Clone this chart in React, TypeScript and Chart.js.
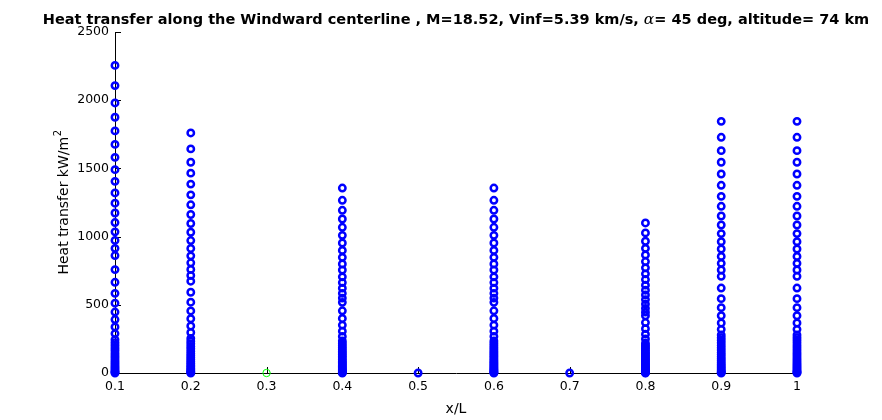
import { useEffect, useRef } from "react";
import { Chart, registerables } from "chart.js";

Chart.register(...registerables);

// ---- data ----
const xTicks = [0.1, 0.2, 0.3, 0.4, 0.5, 0.6, 0.7, 0.8, 0.9, 1];
const yTicks = [0, 500, 1000, 1500, 2000, 2500];

const col01 = [2255, 2107, 1980, 1875, 1775, 1676, 1581, 1491, 1405, 1320, 1245, 1173, 1103, 1035, 972, 914, 861, 758, 665, 584, 512, 447, 392, 338, 289, 244, 222, 203, 184, 165, 145, 127, 110, 93, 78, 64, 50, 37, 24, 12, 6, 0];
const col02 = [1760, 1643, 1545, 1465, 1385, 1306, 1233, 1162, 1096, 1032, 971, 913, 859, 808, 759, 715, 673, 592, 519, 455, 398, 345, 297, 254, 233, 214, 195, 177, 159, 142, 126, 111, 97, 83, 70, 57, 45, 35, 25, 16, 9, 5, 0];
const col04 = [1356, 1266, 1193, 1129, 1068, 1009, 953, 899, 848, 799, 755, 705, 663, 622, 584, 549, 518, 456, 400, 351, 307, 268, 235, 218, 203, 188, 174, 160, 147, 134, 122, 110, 98, 87, 76, 66, 56, 47, 38, 30, 22, 15, 8, 3, 0];
const col06 = [1356, 1266, 1193, 1129, 1068, 1009, 953, 899, 848, 799, 755, 705, 663, 622, 584, 549, 518, 456, 400, 351, 307, 268, 235, 218, 203, 188, 174, 160, 147, 134, 122, 110, 98, 87, 76, 66, 56, 47, 38, 30, 22, 15, 8, 3, 0];
const col08 = [1100, 1027, 966, 914, 866, 817, 771, 727, 685, 644, 607, 572, 538, 505, 474, 446, 420, 370, 325, 285, 250, 218, 204, 191, 178, 165, 153, 141, 130, 119, 109, 99, 89, 80, 71, 62, 53, 45, 38, 31, 24, 18, 12, 6, 2, 0];
const col09 = [1845, 1728, 1630, 1545, 1459, 1376, 1295, 1222, 1151, 1085, 1022, 963, 909, 855, 804, 755, 709, 623, 545, 479, 420, 367, 320, 279, 259, 240, 221, 203, 185, 168, 151, 135, 119, 104, 90, 76, 63, 51, 40, 29, 19, 10, 4, 0];
const col10 = [1845, 1728, 1630, 1545, 1459, 1376, 1295, 1222, 1151, 1085, 1022, 963, 909, 855, 804, 755, 709, 623, 545, 479, 420, 367, 320, 279, 259, 240, 221, 203, 185, 168, 151, 135, 119, 104, 90, 76, 63, 51, 40, 29, 19, 10, 4, 0];

const columnX = [0.1, 0.2, 0.4, 0.6, 0.8, 0.9, 1.0];
const columnY = [col01, col02, col04, col06, col08, col09, col10];

const singleBlueX = [0.5, 0.7];
const singleBlueY = [0, 0];
const greenX = [0.3];
const greenY = [0];

const titleA = "Heat transfer along the Windward centerline , M=18.52, Vinf=5.39 km/s, ";
const titleAlpha = "\u03B1";
const titleB = "= 45 deg, altitude= 74 km";
const xLabel = "x/L";
const yLabel = "Heat transfer kW/m";
const yLabelSup = "2";

const FONT = "'DejaVu Sans', sans-serif";

const decorPlugin = {
  id: "decor",
  beforeDatasetsDraw(chart: any) {
    const { ctx, chartArea, scales } = chart;
    ctx.save();
    ctx.strokeStyle = "#000";
    ctx.lineWidth = 1;
    for (const v of xTicks) {
      const px = Math.round(scales.x.getPixelForValue(v)) + 0.5;
      ctx.beginPath();
      ctx.moveTo(px, chartArea.bottom);
      ctx.lineTo(px, chartArea.bottom - 6);
      ctx.stroke();
    }
    for (const v of yTicks) {
      const py = Math.round(scales.y.getPixelForValue(v)) + 0.5;
      ctx.beginPath();
      ctx.moveTo(chartArea.left, py);
      ctx.lineTo(chartArea.left + 6, py);
      ctx.stroke();
    }
    ctx.restore();
  },
  afterDraw(chart: any) {
    const { ctx, chartArea } = chart;
    const cx = (chartArea.left + chartArea.right) / 2;
    const cy = (chartArea.top + chartArea.bottom) / 2;
    ctx.save();
    ctx.fillStyle = "#000";
    ctx.textBaseline = "alphabetic";
    // title
    const boldFont = `bold 14.5px ${FONT}`;
    const alphaFont = `italic 15.5px 'DejaVu Serif', serif`;
    ctx.font = boldFont;
    const wA = ctx.measureText(titleA).width;
    const wB = ctx.measureText(titleB).width;
    ctx.font = alphaFont;
    const wAl = ctx.measureText(titleAlpha).width;
    const total = wA + wAl + wB;
    let tx = cx - total / 2;
    const ty = 24;
    ctx.textAlign = "left";
    ctx.font = boldFont;
    ctx.fillText(titleA, tx, ty);
    tx += wA;
    ctx.font = alphaFont;
    ctx.fillText(titleAlpha, tx, ty);
    tx += wAl;
    ctx.font = boldFont;
    ctx.fillText(titleB, tx, ty);
    // x label
    ctx.font = `14px ${FONT}`;
    ctx.textAlign = "center";
    ctx.fillText(xLabel, cx, 413);
    // y label
    ctx.translate(68, cy);
    ctx.rotate(-Math.PI / 2);
    const mainFont = `14px ${FONT}`;
    const supFont = `10px ${FONT}`;
    ctx.font = mainFont;
    const wm = ctx.measureText(yLabel).width;
    ctx.font = supFont;
    const ws = ctx.measureText(yLabelSup).width;
    const start = -(wm + ws) / 2;
    ctx.textAlign = "left";
    ctx.font = mainFont;
    ctx.fillText(yLabel, start, 0);
    ctx.font = supFont;
    ctx.fillText(yLabelSup, start + wm + 0.5, -7);
    ctx.restore();
  },
};

export default function App() {
  const ref = useRef<HTMLCanvasElement | null>(null);

  useEffect(() => {
    if (!ref.current) return;
    const bluePts: { x: number; y: number }[] = [];
    columnX.forEach((x, i) => {
      columnY[i].forEach((y) => bluePts.push({ x, y }));
    });
    singleBlueX.forEach((x, i) => bluePts.push({ x, y: singleBlueY[i] }));
    const greenPts = greenX.map((x, i) => ({ x, y: greenY[i] }));

    const chart = new Chart(ref.current, {
      type: "scatter",
      data: {
        datasets: [
          {
            data: greenPts,
            pointStyle: "circle",
            pointRadius: 3.7,
            pointBorderWidth: 1,
            borderColor: "#00ff00",
            pointBorderColor: "#00ff00",
            pointBackgroundColor: "rgba(0,0,0,0)",
            clip: false,
          } as any,
          {
            data: bluePts,
            pointStyle: "circle",
            pointRadius: 3.2,
            pointBorderWidth: 2.5,
            borderColor: "#0000ff",
            pointBorderColor: "#0000ff",
            pointBackgroundColor: "rgba(0,0,0,0)",
            clip: false,
          } as any,
        ],
      },
      options: {
        responsive: false,
        animation: false,
        events: [],
        layout: { padding: { left: 0, right: 85, top: 32, bottom: 0 } },
        plugins: {
          legend: { display: false },
          tooltip: { enabled: false },
          title: { display: false },
        },
        scales: {
          x: {
            type: "linear",
            min: 0.1,
            max: 1,
            grid: { display: false, drawTicks: false },
            border: { display: true, color: "#000", width: 1 },
            afterBuildTicks: (s: any) => {
              s.ticks = xTicks.map((v) => ({ value: v }));
            },
            afterFit: (s: any) => {
              s.height = 47;
            },
            ticks: {
              padding: 6,
              color: "#000",
              font: { family: FONT, size: 12.5 },
              maxRotation: 0,
              autoSkip: false,
              callback: (v: any) => String(Number(Number(v).toFixed(1))),
            },
          },
          y: {
            type: "linear",
            min: 0,
            max: 2500,
            grid: { display: false, drawTicks: false },
            border: { display: true, color: "#000", width: 1 },
            afterBuildTicks: (s: any) => {
              s.ticks = yTicks.map((v) => ({ value: v }));
            },
            afterFit: (s: any) => {
              s.width = 115;
            },
            ticks: {
              padding: 6,
              color: "#000",
              font: { family: FONT, size: 12.5 },
              autoSkip: false,
              callback: (v: any) => String(v),
            },
          },
        },
      },
      plugins: [decorPlugin],
    });
    return () => chart.destroy();
  }, []);

  return (
    <div style={{ position: "absolute", left: 0, top: 0, width: 882, height: 420, background: "#fff" }}>
      <canvas ref={ref} width={882} height={420} style={{ width: 882, height: 420, display: "block" }} />
    </div>
  );
}
